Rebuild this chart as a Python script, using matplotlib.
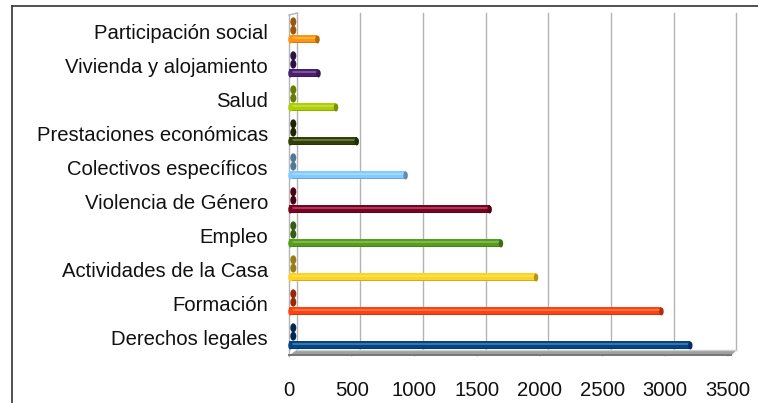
import matplotlib
matplotlib.use("Agg")
import matplotlib.pyplot as plt
from matplotlib.patches import Ellipse, Polygon
from matplotlib.lines import Line2D
import matplotlib.transforms as mtransforms
import matplotlib.colors as mcolors

plt.rcParams['font.family'] = ['Liberation Sans', 'DejaVu Sans']

categorias = ["Derechos legales", "Formación", "Actividades de la Casa", "Empleo",
              "Violencia de Género", "Colectivos específicos", "Prestaciones económicas",
              "Salud", "Vivienda y alojamiento", "Participación social"]
valores = [3200, 2970, 1970, 1690, 1600, 930, 540, 375, 235, 227]
serie_a = [0, 0, 0, 0, 0, 0, 0, 0, 0, 0]
serie_b = [0, 0, 0, 0, 0, 0, 0, 0, 0, 0]
colores = ["#004586", "#ff420e", "#ffd320", "#579d1c", "#7e0021",
           "#83caff", "#314004", "#aecf00", "#4b1f6f", "#ff950e"]
xticks = [0, 500, 1000, 1500, 2000, 2500, 3000, 3500]

W, H = 758, 403
fig = plt.figure(figsize=(W / 100, H / 100), dpi=100)

x0, x1 = 289, 727.9
y_top, y_bot = 13, 356
ax = fig.add_axes([x0 / W, (H - y_bot) / H, (x1 - x0) / W, (y_bot - y_top) / H])
ax.set_xlim(0, 3500)
ax.set_ylim(-0.544, 9.544)
for s in ax.spines.values():
    s.set_visible(False)
ax.patch.set_visible(False)

px = 3500 / (x1 - x0)      # data units per pixel (x)
py = 1 / 34.0              # data units per pixel (y)

def shade(c, f):
    r, g, b = mcolors.to_rgb(c)
    return (r * f, g * f, b * f)

def light(c, f):
    r, g, b = mcolors.to_rgb(c)
    return (r + (1 - r) * f, g + (1 - g) * f, b + (1 - b) * f)

# back wall (offset transform)
back = mtransforms.offset_copy(ax.transData, fig=fig, x=8.4, y=6, units='dots')
wall_top = 9.544 - 6 * py
for v in xticks:
    ax.plot([v, v], [-0.544, wall_top], color="#b3b3b3", lw=1.0, transform=back,
            clip_on=False, zorder=1)
# floor grid lines (slanted)
for v in xticks:
    ax.plot([v, v + 8.4 * px], [-0.544, -0.544 + 6 * py], color="#bdbdbd", lw=0.8,
            clip_on=False, zorder=2)
# left side wall
ax.plot([0, 0], [-0.544, wall_top + 4 * py], color="#b3b3b3", lw=1.0,
        clip_on=False, zorder=1)
ax.plot([0, 8.4 * px], [wall_top + 4 * py, wall_top + 6 * py], color="#b3b3b3",
        lw=1.0, clip_on=False, zorder=1)
# floor slab
floor = Polygon([(0, -0.544), (3500 + 3 * px, -0.544), (3500 + 8.4 * px, -0.544 + 6 * py),
                 (8.4 * px, -0.544 + 6 * py)], closed=True, facecolor="#a0a0a0",
                edgecolor="none", zorder=2, clip_on=False)
ax.add_patch(floor)
ax.plot([8.4 * px, 3500 + 8.4 * px], [-0.544 + 6 * py] * 2, color="#cfcfcf", lw=1.0,
        clip_on=False, zorder=2)
ax.plot([0, 3500 + 3 * px], [-0.544 + 0.5 * py] * 2, color="#777777", lw=1.4,
        clip_on=False, zorder=2)

bh = 8.0 * py
cap_w = 4.5 * px
for i, (v, c) in enumerate(zip(valores, colores)):
    ym = i - 0.235
    # stubs (zero-valued series further back)
    for val, dy in ((serie_b[i], 0.285), (serie_a[i], 0.04)):
        e = Ellipse((val + 4.3 * px, i + dy), width=6 * px, height=9 * py,
                    facecolor=shade(c, 0.6), edgecolor="none", zorder=4, clip_on=False)
        ax.add_patch(e)
    # cylinder body
    ax.barh(ym, v, height=bh, left=0, color=c, zorder=5, linewidth=0)
    ax.barh(ym + 1.2 * py, v, height=2.2 * py, left=0, color=light(c, 0.25), zorder=5,
            linewidth=0)
    ax.barh(ym - 3.0 * py, v, height=1.8 * py, left=0, color=shade(c, 0.82), zorder=5,
            linewidth=0)
    # left rounded end
    ax.add_patch(Ellipse((1.5 * px, ym), width=cap_w, height=bh, facecolor=c,
                         edgecolor="none", zorder=5, clip_on=False))
    # right end cap
    ax.add_patch(Ellipse((v, ym), width=cap_w, height=bh, facecolor=shade(c, 0.7),
                         edgecolor="none", zorder=6, clip_on=False))

ax.set_yticks(range(len(categorias)))
ax.set_yticklabels(categorias, fontsize=14.6, color="#111111")
ax.set_xticks(xticks)
ax.set_xticklabels([str(t) for t in xticks], fontsize=14.6, color="#111111")
ax.tick_params(axis='y', length=0, pad=15.2)
ax.tick_params(axis='x', length=0, pad=18)

# outer chart border (partly cropped)
fig.add_artist(Line2D([12.3 / W, 1.0], [1 - 5.7 / H, 1 - 5.7 / H], color="#333333", lw=1.2,
                      transform=fig.transFigure))
fig.add_artist(Line2D([12.3 / W, 12.3 / W], [0, 1 - 5.7 / H], color="#333333", lw=1.2,
                      transform=fig.transFigure))

fig.savefig("out.png", dpi=100, facecolor="white")
